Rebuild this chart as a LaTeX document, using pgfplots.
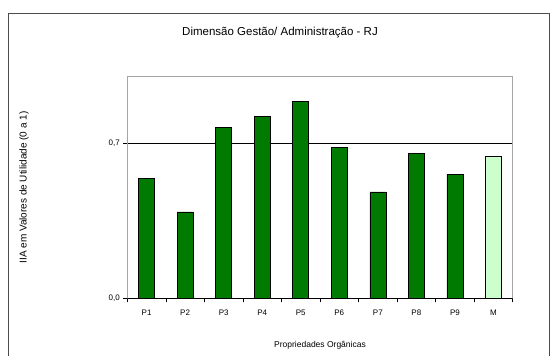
\documentclass[border=0pt]{standalone}
\usepackage{pgfplots}
\pgfplotsset{compat=1.18}
\usepackage{fontspec}
\setmainfont{Liberation Sans}
\definecolor{dkgreen}{RGB}{0,122,0}
\definecolor{ltgreen}{RGB}{204,255,204}
\begin{document}
\begin{tikzpicture}
\useasboundingbox (0,0) rectangle (550pt,-356pt);
\fill[white] (0,0) rectangle (550pt,-356pt);
\draw[black!70, line width=0.9pt] (8pt,-356pt) -- (8pt,-13pt) -- (549pt,-13pt) -- (549pt,-356pt);
\node[font=\fontsize{11.5}{12}\selectfont] at (280pt,-33pt) {Dimensão Gestão/ Administração - RJ};
\begin{axis}[
  at={(127.3pt,-298.3pt)}, anchor=south west,
  scale only axis, width=385.4pt, height=221.6pt,
  xmin=-0.5, xmax=9.5, ymin=0, ymax=1,
  axis line style={gray!70, line width=0.6pt},
  tick style={black, line width=0.6pt},
  tick align=outside,
  xtick pos=bottom, ytick pos=left,
  xtick={0,...,9},
  xticklabels={P1,P2,P3,P4,P5,P6,P7,P8,P9,M},
  major x tick style={draw=none},
  minor xtick={-0.5,0.5,...,9.5},
  minor tick length=4pt,
  major tick length=4pt,
  ytick={0,0.7},
  yticklabels={{0,0},{0,7}},
  /pgf/number format/assume math mode=true,
  ymajorgrids, grid style={black, line width=0.8pt},
  ticklabel style={font=\fontsize{8}{9}\selectfont},
  xticklabel style={yshift=-4pt},
  xlabel={Propriedades Orgânicas},
  xlabel style={font=\fontsize{8.5}{9}\selectfont, yshift=-19pt},
  ylabel={IIA em Valores de Utilidade (0 a 1)},
  ylabel style={font=\fontsize{10}{11}\selectfont, yshift=73pt},
  ybar, bar width=16pt,
]
\addplot[fill=dkgreen, draw=black, line width=0.6pt, bar shift=0pt] coordinates {
(0,0.54) (1,0.39) (2,0.773) (3,0.82) (4,0.889) (5,0.68) (6,0.48) (7,0.655) (8,0.56)};
\addplot[fill=ltgreen, draw=black, line width=0.6pt, bar shift=0pt] coordinates {(9,0.64)};
\draw[black, line width=0.8pt] (axis cs:-0.5,0) -- (axis cs:9.5,0);
\end{axis}
\end{tikzpicture}
\end{document}
